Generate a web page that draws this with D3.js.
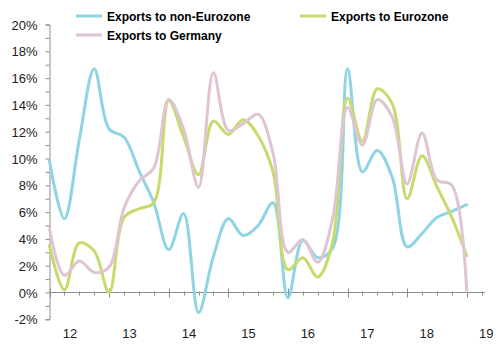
<!DOCTYPE html>
<html>
<head>
<meta charset="utf-8">
<script src="https://cdn.jsdelivr.net/npm/d3@7"></script>
<style>
  html, body { margin: 0; padding: 0; background: #fff; }
  svg { display: block; font-family: Arial, "Liberation Sans", sans-serif; }
</style>
</head>
<body>
<div id="chart"></div>
<script>
// quarterly growth rates, % y/y (index 0 = first quarter shown)
var nonEurozone = [9.8, 5.5, 11.4, 16.7, 12.2, 11.6, 9.1, 6.7, 3.2, 5.9, -1.5, 2.7, 5.5, 4.25, 5.0, 6.7, -0.4, 3.9, 2.6, 3.3, 16.7, 9.0, 10.6, 8.6, 3.4, 4.4, 5.6, 6.05, 6.55];
var eurozone = [3.5, 0.2, 3.7, 3.1, 0.0, 5.6, 6.25, 6.7, 14.3, 11.6, 8.8, 12.8, 11.8, 12.9, 11.7, 9.0, 1.7, 2.6, 1.15, 3.75, 14.5, 11.3, 15.2, 14.1, 7.0, 10.2, 7.9, 5.6, 2.75];
var germany = [4.75, 1.27, 2.35, 1.5, 1.9, 6.3, 8.3, 9.3, 14.4, 12.2, 7.85, 16.4, 12.1, 12.6, 13.3, 10.4, 3.0, 3.95, 2.25, 5.5, 13.8, 11.0, 14.4, 13.1, 8.1, 11.9, 8.4, 8.0, 0.1];

var seriesNames = ["Exports to non-Eurozone", "Exports to Eurozone", "Exports to Germany"];
var seriesColors = ["#8fd4e4", "#c5db6c", "#dfc4d4"];

var yearLabels = ["12", "13", "14", "15", "16", "17", "18", "19"];
var yTicks = d3.range(-2, 21, 1);

var width = 500, height = 348;
var svg = d3.select("#chart").append("svg")
    .attr("width", width)
    .attr("height", height);

var x = d3.scaleLinear().domain([0, 29.2]).range([49.5, 484.6]);
var y = d3.scaleLinear().domain([-2, 20]).range([319.3, 24.5]);

// y axis, a tick every 1%, labels every 2%
var yAxis = svg.append("g")
    .attr("transform", "translate(" + x(0) + ",0)")
    .call(d3.axisLeft(y)
        .tickValues(yTicks)
        .tickSize(4)
        .tickPadding(8)
        .tickFormat(function (d) { return d % 2 === 0 ? d + "%" : ""; }));
yAxis.select(".domain").attr("stroke", "#8c8c8c");
yAxis.selectAll(".tick line").attr("stroke", "#8c8c8c");
yAxis.selectAll(".tick text")
    .attr("fill", "#222")
    .style("font-size", "13px")
    .attr("dy", "0.36em");

// x axis along the 0% line
var xg = svg.append("g");
xg.append("line")
    .attr("x1", x(0)).attr("x2", 485)
    .attr("y1", y(0)).attr("y2", y(0))
    .attr("stroke", "#8c8c8c");
xg.selectAll(".minor")
    .data(d3.range(0, 30))
    .enter().append("line")
    .attr("x1", function (d) { return Math.round(x(d)) + 0.5; })
    .attr("x2", function (d) { return Math.round(x(d)) + 0.5; })
    .attr("y1", function (d) { return d % 4 === 0 ? y(0) - 4 : y(0) - 1; })
    .attr("y2", function (d) { return d % 4 === 0 ? y(0) + 5 : y(0) + 3; })
    .attr("stroke", "#8c8c8c");
xg.selectAll(".year")
    .data(yearLabels)
    .enter().append("text")
    .attr("x", function (d, i) { return x(1.38 + i * 3.99); })
    .attr("y", 338)
    .attr("text-anchor", "middle")
    .attr("fill", "#222")
    .style("font-size", "13px")
    .text(function (d) { return d; });

// series lines
var line = d3.line()
    .x(function (d, i) { return x(i); })
    .y(function (d) { return y(d); })
    .curve(d3.curveCatmullRom.alpha(0.5));

[nonEurozone, eurozone, germany].forEach(function (s, i) {
    svg.append("path")
        .datum(s)
        .attr("fill", "none")
        .attr("stroke", seriesColors[i])
        .attr("stroke-width", 3)
        .attr("stroke-linejoin", "round")
        .attr("stroke-linecap", "round")
        .attr("d", line);
});

// legend
var legendPos = [[76, 16], [300, 16], [76, 35]];
var legend = svg.selectAll(".legend")
    .data(seriesNames)
    .enter().append("g")
    .attr("transform", function (d, i) {
        return "translate(" + legendPos[i][0] + "," + legendPos[i][1] + ")";
    });
legend.append("line")
    .attr("x1", 0).attr("x2", 26)
    .attr("stroke", function (d, i) { return seriesColors[i]; })
    .attr("stroke-width", 3);
legend.append("text")
    .attr("x", 31)
    .attr("y", 4.5)
    .attr("fill", "#000")
    .style("font-size", "12px")
    .style("font-weight", "bold")
    .text(function (d) { return d; });
</script>
</body>
</html>
